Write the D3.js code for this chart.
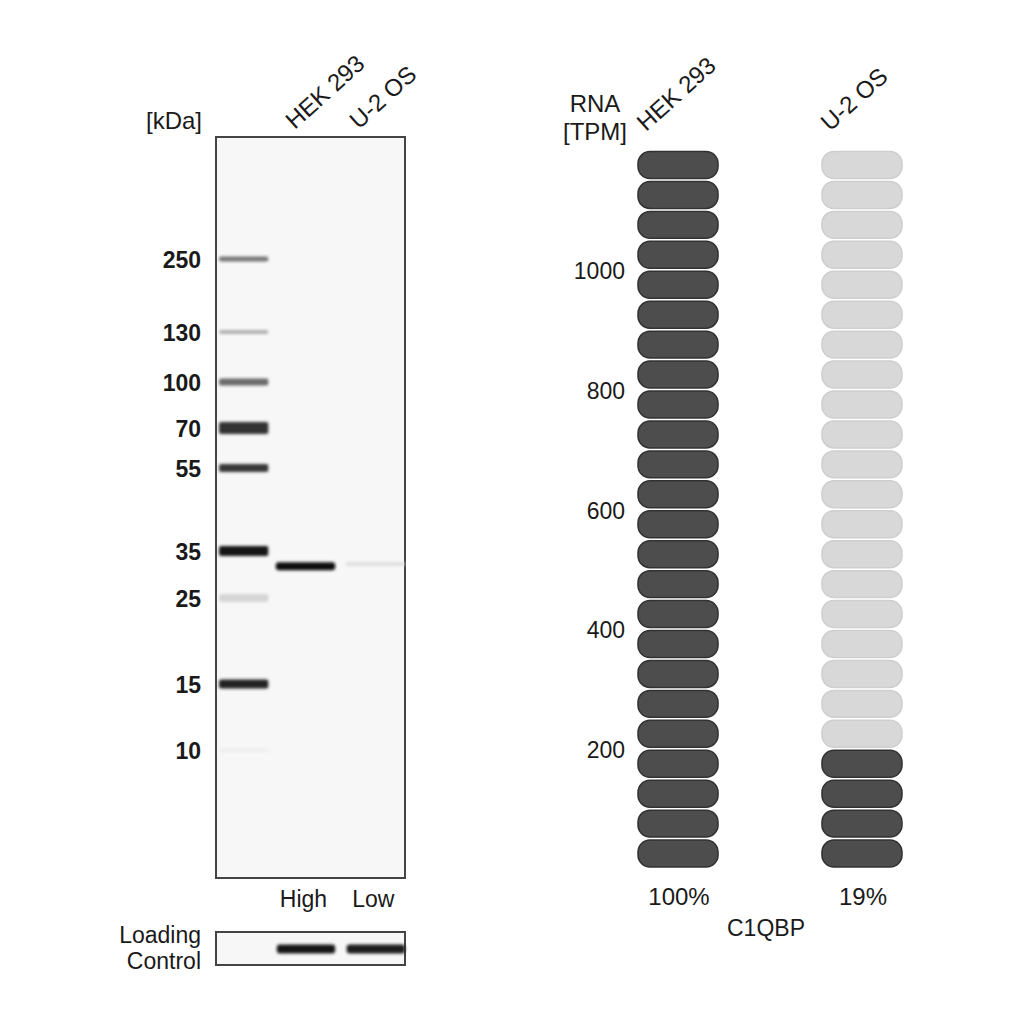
<!DOCTYPE html>
<html><head><meta charset="utf-8">
<script src="https://cdn.jsdelivr.net/npm/d3@7/dist/d3.min.js"></script>
<style>html,body{margin:0;padding:0;background:#fff;}svg{display:block;}text{font-family:"Liberation Sans",Arial,sans-serif;fill:#1a1a1a;}</style>
</head><body>
<script>
// ---- data ----
const laneNames = ["HEK 293", "U-2 OS"];
const loadLabels = ["High", "Low"];
const markerKDa = [250, 130, 100, 70, 55, 35, 25, 15, 10];
const markerIntensity = [0.55, 0.3, 0.6, 0.85, 0.82, 0.97, 0.14, 0.92, 0.04];
const markerThickness = [5, 4, 7, 12, 8, 10, 8, 9, 4];
const targetKDa = 31.5;
const targetIntensity = [1.0, 0.12];
const loadingIntensity = [0.97, 0.95];
const rnaCells = ["HEK 293", "U-2 OS"];
const rnaTPM = [1210, 230];
const rnaTicks = [200, 400, 600, 800, 1000];
const tpmPerBar = 50;
const tpmMax = 1200;
const geneName = "C1QBP";

// ---- layout ----
const W = 1024, H = 1024, FS = 23;
const svg = d3.select("body").append("svg").attr("width", W).attr("height", H);
const defs = svg.append("defs");
defs.append("filter").attr("id", "blur").attr("x", "-20%").attr("y", "-100%").attr("width", "140%").attr("height", "300%")
  .append("feGaussianBlur").attr("stdDeviation", 1.6);
defs.append("filter").attr("id", "soft").append("feGaussianBlur").attr("stdDeviation", 0.6);

const gel = { x0: 216, x1: 405, y0: 137, y1: 878 };
const lanes = d3.scaleBand().domain(["marker", ...laneNames]).range([206, gel.x1]).paddingInner(0.15).paddingOuter(0);
// gel migration: piecewise log scale calibrated to marker rows
const yGel = d3.scaleLog().domain(markerKDa).range([259, 332, 382, 428, 468, 551, 598, 684, 750]);
const shade = t => d3.interpolateRgb("#f7f7f7", "#0e0e0e")(t);

// gel frame
svg.append("rect").attr("x", gel.x0).attr("y", gel.y0).attr("width", gel.x1 - gel.x0).attr("height", gel.y1 - gel.y0)
  .attr("fill", "#f7f7f7").attr("stroke", "#444").attr("stroke-width", 2);

const bandsG = svg.append("g").attr("filter", "url(#blur)");
const mX0 = gel.x0 + 3, mX1 = lanes("marker") + lanes.bandwidth() + 3;
// marker ladder
bandsG.selectAll("rect.m").data(markerKDa).join("rect").attr("class", "m")
  .attr("x", mX0).attr("width", mX1 - mX0)
  .attr("y", (d, i) => yGel(d) - markerThickness[i] / 2).attr("height", (d, i) => markerThickness[i])
  .attr("rx", 2).attr("fill", (d, i) => shade(markerIntensity[i]));
// target bands
bandsG.selectAll("rect.t").data(laneNames).join("rect").attr("class", "t")
  .attr("x", d => lanes(d)).attr("width", lanes.bandwidth())
  .attr("y", yGel(targetKDa) - 3.5).attr("height", (d, i) => 3 + 5 * targetIntensity[i])
  .attr("rx", 3).attr("fill", (d, i) => shade(targetIntensity[i]));

// marker labels
svg.append("g").selectAll("text").data(markerKDa).join("text")
  .attr("x", 201).attr("y", d => yGel(d) + 1).attr("dy", "0.36em").attr("text-anchor", "end")
  .attr("font-size", FS).attr("font-weight", "bold").text(d => d);
svg.append("text").attr("x", 202).attr("y", 120).attr("dy", "0.36em").attr("text-anchor", "end")
  .attr("font-size", 24).text("[kDa]");

// rotated lane labels
svg.append("g").selectAll("text").data(laneNames).join("text")
  .attr("transform", (d, i) => `translate(${lanes(d) + (i === 0 ? 19 : 13)},${130}) rotate(-42)`)
  .attr("font-size", 24).text(d => d);

// High / Low
svg.append("g").selectAll("text").data(loadLabels).join("text")
  .attr("x", (d, i) => lanes(laneNames[i]) + lanes.bandwidth() / 2 - 2).attr("y", 899).attr("dy", "0.36em")
  .attr("text-anchor", "middle").attr("font-size", FS).text(d => d);

// loading control
const lc = { y0: 932, y1: 965 };
svg.append("rect").attr("x", gel.x0).attr("y", lc.y0).attr("width", gel.x1 - gel.x0).attr("height", lc.y1 - lc.y0)
  .attr("fill", "#f7f7f7").attr("stroke", "#444").attr("stroke-width", 2);
svg.append("g").attr("filter", "url(#blur)").selectAll("rect").data(laneNames).join("rect")
  .attr("x", d => lanes(d) + 1).attr("width", lanes.bandwidth() - 1)
  .attr("y", (lc.y0 + lc.y1) / 2 - 4).attr("height", 9).attr("rx", 3)
  .attr("fill", (d, i) => shade(loadingIntensity[i]));
svg.append("text").attr("x", 201).attr("y", 935).attr("dy", "0.36em").attr("text-anchor", "end").attr("font-size", FS).text("Loading");
svg.append("text").attr("x", 201).attr("y", 961).attr("dy", "0.36em").attr("text-anchor", "end").attr("font-size", FS).text("Control");

// ---- RNA panel ----
const xR = d3.scaleBand().domain(rnaCells).range([638, 902]).paddingInner(0.565);
const yT = d3.scaleLinear().domain([0, tpmMax]).range([868.5, 150]);
const nBars = Math.round(tpmMax / tpmPerBar);
const barIdx = d3.range(nBars);
const maxTPM = d3.max(rnaTPM);

rnaCells.forEach((cell, ci) => {
  const nDark = Math.floor(rnaTPM[ci] / tpmPerBar);
  svg.append("g").attr("filter", "url(#soft)").selectAll("rect").data(barIdx).join("rect")
    .attr("x", xR(cell)).attr("width", xR.bandwidth())
    .attr("y", i => yT((i + 1) * tpmPerBar) + 1.5)
    .attr("height", i => yT(i * tpmPerBar) - yT((i + 1) * tpmPerBar) - 3)
    .attr("rx", 12).attr("ry", 12)
    .attr("fill", i => i < nDark ? "#4e4e4e" : "#d8d8d8")
    .attr("stroke", i => i < nDark ? "#303030" : "#cecece").attr("stroke-width", 1.5);
});

svg.append("g").selectAll("text").data(rnaTicks).join("text")
  .attr("x", 625).attr("y", d => yT(d) + 1).attr("dy", "0.36em").attr("text-anchor", "end")
  .attr("font-size", FS).text(d => d);

svg.append("text").attr("x", 595).attr("y", 103).attr("dy", "0.36em").attr("text-anchor", "middle").attr("font-size", 24).text("RNA");
svg.append("text").attr("x", 595).attr("y", 131).attr("dy", "0.36em").attr("text-anchor", "middle").attr("font-size", 24).text("[TPM]");

svg.append("g").selectAll("text").data(rnaCells).join("text")
  .attr("transform", d => `translate(${xR(d) + 8},${132}) rotate(-42)`)
  .attr("font-size", 24).text(d => d);

svg.append("g").selectAll("text").data(rnaCells).join("text")
  .attr("x", d => xR(d) + xR.bandwidth() / 2 + 1).attr("y", 896).attr("dy", "0.36em").attr("text-anchor", "middle")
  .attr("font-size", 24).text((d, i) => Math.round(rnaTPM[i] / maxTPM * 100) + "%");

svg.append("text").attr("x", (xR(rnaCells[0]) + xR(rnaCells[1]) + xR.bandwidth()) / 2 - 4).attr("y", 928).attr("dy", "0.36em")
  .attr("text-anchor", "middle").attr("font-size", FS).text(geneName);
</script>
</body></html>
